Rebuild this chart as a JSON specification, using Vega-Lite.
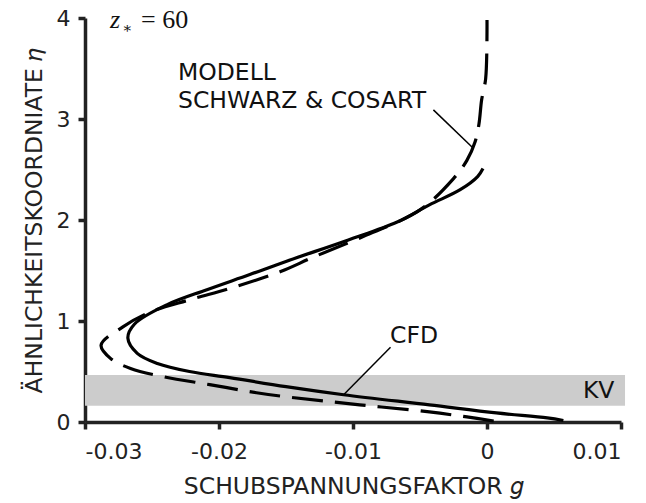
{
  "$schema": "https://vega.github.io/schema/vega-lite/v6.json",
  "width": 536,
  "height": 404,
  "autosize": {"type": "none"},
  "padding": {"left": 85, "top": 18, "right": 25, "bottom": 81},
  "background": "white",
  "config": {"view": {"stroke": null}},
  "datasets": {
    "band": [{"x1": -0.03, "x2": 0.0103, "y1": 0.16, "y2": 0.465}],
    "curves": [
      {"series": "cfd", "i": 1, "g": 0.0057, "eta": 0.015},
      {"series": "cfd", "i": 2, "g": 0.0045, "eta": 0.04},
      {"series": "cfd", "i": 3, "g": 0.0007, "eta": 0.09},
      {"series": "cfd", "i": 4, "g": -0.0043, "eta": 0.17},
      {"series": "cfd", "i": 5, "g": -0.0107, "eta": 0.27},
      {"series": "cfd", "i": 6, "g": -0.0150, "eta": 0.35},
      {"series": "cfd", "i": 7, "g": -0.0192, "eta": 0.44},
      {"series": "cfd", "i": 8, "g": -0.0222, "eta": 0.50},
      {"series": "cfd", "i": 9, "g": -0.0246, "eta": 0.58},
      {"series": "cfd", "i": 10, "g": -0.0261, "eta": 0.68},
      {"series": "cfd", "i": 11, "g": -0.0268, "eta": 0.83},
      {"series": "cfd", "i": 12, "g": -0.0263, "eta": 0.97},
      {"series": "cfd", "i": 13, "g": -0.0239, "eta": 1.16},
      {"series": "cfd", "i": 14, "g": -0.0209, "eta": 1.31},
      {"series": "cfd", "i": 15, "g": -0.0177, "eta": 1.46},
      {"series": "cfd", "i": 16, "g": -0.0150, "eta": 1.59},
      {"series": "cfd", "i": 17, "g": -0.0104, "eta": 1.80},
      {"series": "cfd", "i": 18, "g": -0.0067, "eta": 1.98},
      {"series": "cfd", "i": 19, "g": -0.0043, "eta": 2.15},
      {"series": "cfd", "i": 20, "g": -0.0020, "eta": 2.30},
      {"series": "cfd", "i": 21, "g": -0.0007, "eta": 2.43},
      {"series": "cfd", "i": 22, "g": -0.0003, "eta": 2.51},
      {"series": "model", "i": 1, "g": 0.0005, "eta": 0.01},
      {"series": "model", "i": 2, "g": -0.0015, "eta": 0.05},
      {"series": "model", "i": 3, "g": -0.0043, "eta": 0.10},
      {"series": "model", "i": 4, "g": -0.0095, "eta": 0.17},
      {"series": "model", "i": 5, "g": -0.0150, "eta": 0.25},
      {"series": "model", "i": 6, "g": -0.0172, "eta": 0.29},
      {"series": "model", "i": 7, "g": -0.0207, "eta": 0.37},
      {"series": "model", "i": 8, "g": -0.0242, "eta": 0.45},
      {"series": "model", "i": 9, "g": -0.0266, "eta": 0.53},
      {"series": "model", "i": 10, "g": -0.0281, "eta": 0.63},
      {"series": "model", "i": 11, "g": -0.0288, "eta": 0.76},
      {"series": "model", "i": 12, "g": -0.0272, "eta": 0.94},
      {"series": "model", "i": 13, "g": -0.0251, "eta": 1.09},
      {"series": "model", "i": 14, "g": -0.0222, "eta": 1.21},
      {"series": "model", "i": 15, "g": -0.0190, "eta": 1.33},
      {"series": "model", "i": 16, "g": -0.0154, "eta": 1.49},
      {"series": "model", "i": 17, "g": -0.0130, "eta": 1.63},
      {"series": "model", "i": 18, "g": -0.0090, "eta": 1.85},
      {"series": "model", "i": 19, "g": -0.0050, "eta": 2.10},
      {"series": "model", "i": 20, "g": -0.0025, "eta": 2.41},
      {"series": "model", "i": 21, "g": -0.0015, "eta": 2.59},
      {"series": "model", "i": 22, "g": -0.0009, "eta": 2.77},
      {"series": "model", "i": 23, "g": -0.0006, "eta": 2.95},
      {"series": "model", "i": 24, "g": -0.0004, "eta": 3.19},
      {"series": "model", "i": 25, "g": -0.0001, "eta": 3.40},
      {"series": "model", "i": 26, "g": 0.0000, "eta": 3.98}
    ],
    "leaders": [
      {"g1": -0.0040, "e1": 3.09, "g2": -0.0011, "e2": 2.72},
      {"g1": -0.0072, "e1": 0.74, "g2": -0.0107, "e2": 0.27}
    ],
    "labels": [
      {"g": -0.02306, "eta": 3.386, "text": "MODELL"},
      {"g": -0.02306, "eta": 3.109, "text": "SCHWARZ & COSART"},
      {"g": -0.00724, "eta": 0.782, "text": "CFD"},
      {"g": 0.00716, "eta": 0.238, "text": "KV"}
    ],
    "zlabel": [{"g": -0.02813, "eta": 3.90}]
  },
  "layer": [
    {
      "data": {"name": "band"},
      "mark": {"type": "rect", "color": "#cccccc", "clip": false},
      "encoding": {
        "x": {"field": "x1", "type": "quantitative", "scale": {"domain": [-0.03, 0.01]},
          "axis": {"values": [-0.03, -0.02, -0.01, 0, 0.01], "title": "SCHUBSPANNUNGSFAKTOR 𝑔", "grid": false,
            "domainWidth": 3.5, "domainColor": "#222222", "tickWidth": 3.5, "tickColor": "#222222", "tickSize": 7,
            "labelFont": "DejaVu Sans", "labelFontSize": 22, "labelColor": "#222222", "labelPadding": 12,
            "titleFont": "DejaVu Sans", "titleFontSize": 23.5, "titleColor": "#222222", "titleFontWeight": "normal", "titlePadding": 12,
            "labelExpr": "datum.value == 0 ? '0' : (datum.value < 0 ? '-' : '') + format(abs(datum.value), '.2f')"}},
        "x2": {"field": "x2"},
        "y": {"field": "y1", "type": "quantitative", "scale": {"domain": [0, 4]},
          "axis": {"values": [0, 1, 2, 3, 4], "format": "d", "title": "ÄHNLICHKEITSKOORDNIATE 𝜂", "grid": false,
            "domainWidth": 3.5, "domainColor": "#222222", "tickWidth": 3.5, "tickColor": "#222222", "tickSize": 7,
            "labelFont": "DejaVu Sans", "labelFontSize": 22, "labelColor": "#222222", "labelPadding": 8,
            "titleFont": "DejaVu Sans", "titleFontSize": 23.5, "titleColor": "#222222", "titleFontWeight": "normal", "titlePadding": 10}},
        "y2": {"field": "y2"}
      }
    },
    {
      "data": {"name": "curves"},
      "transform": [{"filter": "datum.series == 'cfd'"}],
      "mark": {"type": "line", "color": "black", "strokeWidth": 3.2, "interpolate": "catmull-rom", "clip": false},
      "encoding": {
        "x": {"field": "g", "type": "quantitative"},
        "y": {"field": "eta", "type": "quantitative"},
        "order": {"field": "i", "type": "quantitative"}
      }
    },
    {
      "data": {"name": "curves"},
      "transform": [{"filter": "datum.series == 'model'"}],
      "mark": {"type": "line", "color": "black", "strokeWidth": 3.2, "strokeDash": [31, 12], "interpolate": "catmull-rom", "clip": false},
      "encoding": {
        "x": {"field": "g", "type": "quantitative"},
        "y": {"field": "eta", "type": "quantitative"},
        "order": {"field": "i", "type": "quantitative"}
      }
    },
    {
      "data": {"name": "leaders"},
      "mark": {"type": "rule", "color": "black", "strokeWidth": 1.5},
      "encoding": {
        "x": {"field": "g1", "type": "quantitative"},
        "y": {"field": "e1", "type": "quantitative"},
        "x2": {"field": "g2"},
        "y2": {"field": "e2"}
      }
    },
    {
      "data": {"name": "labels"},
      "mark": {"type": "text", "font": "DejaVu Sans", "fontSize": 23.5, "color": "#111111", "align": "left", "baseline": "alphabetic"},
      "encoding": {
        "x": {"field": "g", "type": "quantitative"},
        "y": {"field": "eta", "type": "quantitative"},
        "text": {"field": "text"}
      }
    },
    {
      "data": {"name": "zlabel"},
      "mark": {"type": "text", "font": "Liberation Serif", "fontStyle": "italic", "fontSize": 26, "color": "#111111", "align": "left", "baseline": "alphabetic", "text": "z"},
      "encoding": {
        "x": {"field": "g", "type": "quantitative"},
        "y": {"field": "eta", "type": "quantitative"}
      }
    },
    {
      "data": {"name": "zlabel"},
      "mark": {"type": "text", "font": "DejaVu Serif", "fontSize": 15, "color": "#111111", "align": "left", "baseline": "alphabetic", "text": "∗", "dx": 12, "dy": 5},
      "encoding": {
        "x": {"field": "g", "type": "quantitative"},
        "y": {"field": "eta", "type": "quantitative"}
      }
    },
    {
      "data": {"name": "zlabel"},
      "mark": {"type": "text", "font": "Liberation Serif", "fontSize": 26, "color": "#111111", "align": "left", "baseline": "alphabetic", "text": "= 60", "dx": 31},
      "encoding": {
        "x": {"field": "g", "type": "quantitative"},
        "y": {"field": "eta", "type": "quantitative"}
      }
    }
  ]
}
